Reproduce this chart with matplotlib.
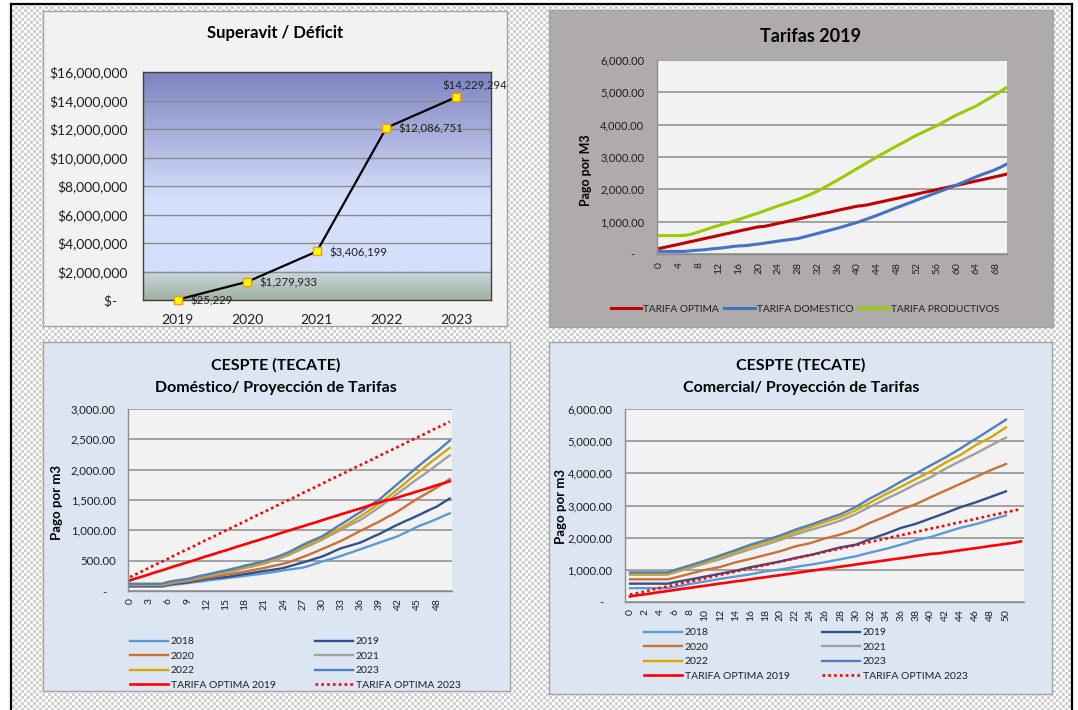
import numpy as np
import matplotlib
matplotlib.use('Agg')
import matplotlib.pyplot as plt
from matplotlib.colors import LinearSegmentedColormap
from matplotlib.lines import Line2D
from matplotlib.ticker import FuncFormatter

plt.rcParams['font.family'] = ['Lato', 'DejaVu Sans']

W, H = 1078, 710

# ---------------- data ----------------
sup_years = ['2019', '2020', '2021', '2022', '2023']
sup_values = [25229, 1279933, 3406199, 12086751, 14229294]

# Tarifas 2019 (0..70 m3)
t19_optima = [175, 205, 240, 270, 305, 340, 375, 405, 440, 475,
              510, 540, 575, 610, 640, 675, 710, 745, 775, 810,
              840, 850, 880, 915, 950, 980, 1015, 1050, 1080, 1115,
              1150, 1180, 1215, 1250, 1280, 1315, 1350, 1385, 1415, 1450,
              1480, 1495, 1520, 1555, 1590, 1620, 1655, 1690, 1720, 1755,
              1790, 1820, 1855, 1890, 1925, 1955, 1990, 2025, 2055, 2090,
              2125, 2155, 2190, 2225, 2260, 2290, 2325, 2360, 2395, 2430,
              2465]
t19_domestico = [80, 80, 80, 80, 80, 80, 95, 110, 120, 130,
                 150, 165, 180, 195, 215, 235, 250, 255, 270, 290,
                 310, 330, 355, 375, 400, 420, 440, 460, 480, 520,
                 560, 600, 640, 680, 720, 760, 800, 845, 890, 935,
                 980, 1035, 1090, 1145, 1200, 1260, 1320, 1380, 1440, 1495,
                 1555, 1610, 1670, 1730, 1785, 1845, 1900, 1955, 2015, 2070,
                 2130, 2195, 2260, 2325, 2390, 2450, 2505, 2560, 2620, 2690,
                 2770]
t19_productivos = [570, 570, 570, 570, 570, 575, 600, 640, 690, 740,
                   790, 840, 885, 930, 975, 1025, 1070, 1120, 1170, 1220,
                   1270, 1325, 1380, 1435, 1490, 1540, 1590, 1640, 1690, 1750,
                   1815, 1880, 1950, 2035, 2120, 2205, 2290, 2380, 2470, 2560,
                   2650, 2740, 2830, 2920, 3010, 3095, 3180, 3265, 3350, 3430,
                   3515, 3600, 3680, 3750, 3825, 3895, 3970, 4050, 4135, 4220,
                   4300, 4370, 4440, 4510, 4580, 4670, 4760, 4850, 4940, 5040,
                   5140]

# Domestico projection (0..50 m3)
dom_2018 = [70, 70, 70, 70, 70, 70, 90, 105, 115, 130,
            145, 155, 170, 185, 195, 210, 225, 235, 250, 265,
            275, 290, 305, 320, 340, 355, 370, 385, 415, 450,
            485, 515, 545, 578, 615, 650, 688, 725, 760, 798,
            835, 870, 908, 960, 1010, 1063, 1105, 1145, 1189, 1235,
            1280]
dom_2019 = [85, 85, 85, 85, 85, 85, 105, 120, 130, 140,
            160, 180, 200, 210, 220, 230, 245, 265, 280, 295,
            315, 330, 345, 360, 380, 410, 440, 470, 500, 535,
            567, 610, 660, 705, 735, 765, 798, 845, 895, 941,
            995, 1050, 1101, 1150, 1195, 1244, 1295, 1345, 1393, 1460,
            1525]
dom_2020 = [95, 95, 95, 95, 95, 95, 115, 135, 150, 160,
            180, 200, 220, 235, 255, 270, 285, 300, 320, 340,
            360, 380, 405, 425, 450, 480, 520, 560, 600, 645,
            690, 735, 780, 826, 880, 935, 991, 1040, 1095, 1145,
            1205, 1260, 1321, 1390, 1460, 1525, 1585, 1645, 1707, 1775,
            1845]
dom_2021 = [105, 105, 105, 105, 105, 105, 130, 150, 165, 180,
            200, 220, 240, 260, 280, 300, 325, 350, 380, 400,
            425, 450, 485, 520, 560, 600, 650, 700, 745, 795,
            843, 900, 955, 1010, 1065, 1120, 1170, 1240, 1310, 1380,
            1460, 1540, 1620, 1695, 1775, 1850, 1925, 2000, 2080, 2160,
            2236]
dom_2022 = [110, 110, 110, 110, 110, 110, 140, 160, 175, 190,
            210, 235, 255, 275, 300, 320, 345, 370, 400, 420,
            445, 470, 505, 540, 580, 625, 680, 730, 775, 820,
            870, 925, 985, 1040, 1100, 1165, 1230, 1300, 1370, 1440,
            1520, 1605, 1690, 1775, 1865, 1950, 2035, 2120, 2200, 2280,
            2360]
dom_2023 = [120, 120, 120, 120, 120, 120, 150, 170, 185, 200,
            225, 250, 270, 295, 320, 340, 365, 390, 420, 440,
            470, 495, 530, 565, 605, 650, 705, 760, 810, 855,
            900, 965, 1035, 1100, 1165, 1235, 1300, 1370, 1440, 1510,
            1600, 1690, 1780, 1870, 1960, 2050, 2135, 2220, 2300, 2390,
            2480]

# Comercial projection (0..50 m3)
com_2018 = [430, 430, 430, 430, 430, 430, 470, 515, 560, 600,
            640, 680, 720, 755, 790, 825, 860, 905, 950, 980,
            1010, 1050, 1090, 1125, 1160, 1200, 1240, 1285, 1330, 1375,
            1420, 1480, 1540, 1595, 1650, 1715, 1780, 1850, 1920, 1970,
            2020, 2095, 2170, 2240, 2310, 2365, 2420, 2490, 2560, 2625,
            2690]
com_2019 = [570, 570, 570, 570, 570, 570, 620, 660, 700, 745,
            790, 835, 880, 925, 970, 1025, 1080, 1125, 1170, 1215,
            1260, 1315, 1370, 1415, 1460, 1520, 1580, 1640, 1700, 1740,
            1780, 1870, 1960, 2040, 2120, 2210, 2300, 2365, 2430, 2515,
            2600, 2685, 2770, 2860, 2950, 3025, 3100, 3185, 3270, 3355,
            3440]
com_2020 = [705, 705, 705, 705, 705, 705, 760, 820, 880, 940,
            1000, 1045, 1090, 1160, 1230, 1285, 1340, 1400, 1460, 1520,
            1580, 1655, 1730, 1780, 1830, 1905, 1980, 2040, 2100, 2175,
            2250, 2360, 2470, 2565, 2660, 2765, 2870, 2955, 3040, 3150,
            3260, 3365, 3470, 3575, 3680, 3785, 3890, 3995, 4100, 4195,
            4290]
com_2021 = [850, 850, 850, 850, 850, 850, 920, 990, 1060, 1130,
            1200, 1265, 1330, 1410, 1490, 1565, 1640, 1710, 1780, 1855,
            1930, 2015, 2100, 2170, 2240, 2310, 2380, 2455, 2530, 2630,
            2730, 2850, 2970, 3085, 3200, 3310, 3420, 3540, 3660, 3770,
            3880, 4015, 4150, 4270, 4390, 4505, 4620, 4745, 4870, 4990,
            5110]
com_2022 = [870, 870, 870, 870, 870, 870, 960, 1030, 1100, 1175,
            1250, 1325, 1400, 1480, 1560, 1640, 1720, 1790, 1860, 1930,
            2000, 2090, 2180, 2255, 2330, 2410, 2490, 2565, 2640, 2745,
            2850, 2975, 3100, 3225, 3350, 3465, 3580, 3700, 3820, 3940,
            4060, 4200, 4340, 4460, 4580, 4730, 4880, 5000, 5120, 5275,
            5430]
com_2023 = [920, 920, 920, 920, 920, 920, 1000, 1070, 1140, 1215,
            1290, 1370, 1450, 1530, 1610, 1695, 1780, 1850, 1920, 1995,
            2070, 2160, 2250, 2325, 2400, 2485, 2570, 2650, 2730, 2840,
            2950, 3090, 3230, 3350, 3470, 3605, 3740, 3865, 3990, 4120,
            4250, 4375, 4500, 4640, 4780, 4930, 5075, 5220, 5370, 5520,
            5670]

# optimal tariffs (0..52 m3)
opt_2019 = [175, 210, 240, 275, 310, 340, 375, 410, 440, 475,
            505, 540, 575, 605, 640, 670, 705, 740, 770, 805,
            835, 870, 900, 935, 970, 1000, 1035, 1065, 1100, 1130,
            1165, 1200, 1230, 1265, 1295, 1330, 1360, 1395, 1430, 1460,
            1495, 1510, 1545, 1580, 1610, 1645, 1675, 1710, 1745, 1775,
            1810, 1840, 1885]
opt_2023 = [230, 280, 330, 385, 435, 485, 535, 590, 640, 690,
            740, 795, 845, 895, 945, 1000, 1050, 1100, 1150, 1205,
            1255, 1305, 1355, 1410, 1460, 1510, 1560, 1615, 1665, 1715,
            1765, 1820, 1870, 1920, 1970, 2025, 2075, 2125, 2175, 2230,
            2280, 2330, 2380, 2435, 2485, 2535, 2585, 2640, 2690, 2740,
            2790, 2840, 2890]

year_names = ['2018', '2019', '2020', '2021', '2022', '2023']
year_colors = ['#5b9bd5', '#2f528f', '#cc7033', '#a0a0a0', '#d9a600', '#4e80bd']
TXT = '#1f1f1f'


def rect(x0, y0, x1, y1):
    return [x0 / W, 1 - y1 / H, (x1 - x0) / W, (y1 - y0) / H]


def fx(x):
    return x / W


def fy(y):
    return 1 - y / H


def money_fmt(v, pos):
    return '$-   ' if v == 0 else f'${v:,.0f}'


def num_fmt(v, pos):
    return '-   ' if v == 0 else f'{v:,.2f}'


fig = plt.figure(figsize=(W / 100, H / 100), dpi=100)
fig.patch.set_facecolor('white')

# checkered background + black frame
yy, xx = np.mgrid[0:H, 0:W]
cells = ((yy // 3 + xx // 3) % 2)[..., None]
bg = np.where(cells == 1, 0.82, 1.0) * np.ones(3)
bg[:4, :] = 1.0
bg[:, :11] = 1.0
bg[:, 1072:] = 1.0
fig.figimage(bg, 0, 0, origin='upper', zorder=-5)
for xs_, ys_ in [([10.5, 1072], [3.5, 3.5]), ([10.5, 10.5], [3.5, 710]), ([1072, 1072], [3.5, 710])]:
    fig.add_artist(Line2D([fx(v) for v in xs_], [fy(v) for v in ys_],
                          transform=fig.transFigure, color='black', lw=1.6))


def chart_area(x0, y0, x1, y1, color):
    a = fig.add_axes(rect(x0, y0, x1, y1))
    a.set_facecolor(color)
    a.set_xticks([])
    a.set_yticks([])
    for s in a.spines.values():
        s.set_color('#a3a3a3')
        s.set_linewidth(1.0)
    return a


def style_line_axes(ax, ymax, step):
    ax.set_facecolor('#f2f2f2')
    ax.set_ylim(0, ymax)
    ax.set_yticks(np.arange(0, ymax + 1, step))
    ax.yaxis.set_major_formatter(FuncFormatter(num_fmt))
    ax.grid(axis='y', color='#8c8c8c', lw=1.1)
    ax.set_axisbelow(True)
    for side in ['top', 'right']:
        ax.spines[side].set_visible(False)
    for side in ['left', 'bottom']:
        ax.spines[side].set_color('#8c8c8c')
        ax.spines[side].set_linewidth(1.0)
    ax.tick_params(axis='both', length=0, labelcolor=TXT)
    ax.tick_params(axis='y', labelsize=8.2, pad=9)
    ax.tick_params(axis='x', labelsize=7.5, labelrotation=90, pad=5)


# ---------------- panel 1: Superavit / Deficit ----------------
chart_area(43, 11, 507, 326, '#f2f2f2')
ax1 = fig.add_axes(rect(143, 72, 490.7, 300))
stops = [(0.0, '#a2b3a0'), (0.124, '#c9d6e3'), (0.126, '#d5dffb'),
         (0.45, '#d5dffb'), (1.0, '#7e83c0')]
cmap = LinearSegmentedColormap.from_list('sup', stops)
grad = cmap(np.linspace(0, 1, 400))[:, None, :]
ax1.imshow(grad, extent=(-0.5, 4.5, 0, 16e6), aspect='auto', origin='lower', zorder=0)
xpos = np.arange(len(sup_years))
ax1.plot(xpos, sup_values, color='black', lw=1.6, marker='s', ms=5.5,
         mfc='#ffff00', mec='#f59a00', mew=1, clip_on=False, zorder=3)
for i, v in enumerate(sup_values):
    lab = f'${v:,}'
    if i == len(sup_values) - 1:
        ax1.annotate(lab, (i, v), xytext=(-10, 4), textcoords='offset points',
                     ha='left', va='bottom', fontsize=8.2, color=TXT, annotation_clip=False)
    else:
        ax1.annotate(lab, (i, v), xytext=(9, -1), textcoords='offset points',
                     ha='left', va='center', fontsize=8.2, color=TXT, annotation_clip=False)
ax1.set_xlim(-0.5, 4.5)
ax1.set_ylim(0, 16e6)
ax1.set_xticks(xpos)
ax1.set_xticklabels(sup_years)
ax1.set_yticks(np.arange(0, 16e6 + 1, 2e6))
ax1.yaxis.set_major_formatter(FuncFormatter(money_fmt))
ax1.grid(axis='y', color='#8c8c8c', lw=1.0)
for s in ax1.spines.values():
    s.set_color('#404040')
    s.set_linewidth(1.0)
ax1.tick_params(length=0, labelcolor=TXT)
ax1.tick_params(axis='y', labelsize=10, pad=11)
ax1.tick_params(axis='x', labelsize=10, pad=10)
fig.text(fx(275), fy(33), 'Superavit / Déficit', ha='center', va='center',
         fontsize=12, fontweight='bold', color='black')

# ---------------- panel 2: Tarifas 2019 ----------------
chart_area(549, 10, 1053, 327, '#afabab')
ax2 = fig.add_axes(rect(656.7, 60, 1007, 254))
x2 = np.arange(len(t19_optima))
l_opt = ax2.plot(x2, t19_optima, color='#c00000', lw=2.2, label='TARIFA OPTIMA')[0]
l_dom = ax2.plot(x2, t19_domestico, color='#4472c4', lw=2.2, label='TARIFA DOMESTICO')[0]
l_pro = ax2.plot(x2, t19_productivos, color='#99cc00', lw=2.2, label='TARIFA PRODUCTIVOS')[0]
style_line_axes(ax2, 6000, 1000)
ax2.set_xlim(-0.6, 70.2)
ax2.set_xticks(np.arange(0, 69, 4))
ax2.tick_params(axis='y', labelsize=8)
ax2.tick_params(axis='x', pad=6)
fig.text(fx(810), fy(36), 'Tarifas 2019', ha='center', va='center',
         fontsize=13, fontweight='bold', color='black')
fig.text(fx(586), fy(170), 'Pago por M3', ha='center', va='center', rotation=90,
         fontsize=9, fontweight='bold', color='black')
fig.legend(handles=[l_opt, l_dom, l_pro], loc='center', bbox_to_anchor=(fx(805), fy(309)),
           ncol=3, frameon=False, fontsize=7.3, handlelength=3.0, handletextpad=0.2,
           columnspacing=0.5, labelcolor=TXT)


# ---------------- panels 3 & 4: projections ----------------
def projection_panel(box, plot, xlim, xticks, ymax, step, series, opt_n,
                     title, title_x, ylab_xy, leg_x, leg_y):
    chart_area(*box, '#dce6f2')
    ax = fig.add_axes(rect(*plot))
    handles = []
    for name, col, vals in zip(year_names, year_colors, series):
        handles.append(ax.plot(np.arange(len(vals)), vals, color=col, lw=1.7, label=name)[0])
    handles.append(ax.plot(np.arange(opt_n), opt_2019[:opt_n], color='#ff0000', lw=1.9,
                           label='TARIFA OPTIMA 2019')[0])
    handles.append(ax.plot(np.arange(opt_n), opt_2023[:opt_n], color='#ff0000', lw=1.9,
                           ls=(0, (1, 1.2)), label='TARIFA OPTIMA 2023')[0])
    style_line_axes(ax, ymax, step)
    ax.set_xlim(*xlim)
    ax.set_xticks(xticks)
    fig.text(fx(title_x), fy(365), 'CESPTE (TECATE)', ha='center', va='center',
             fontsize=11.5, fontweight='bold', color='black')
    fig.text(fx(title_x), fy(388), title, ha='center', va='center',
             fontsize=11.5, fontweight='bold', color='black')
    fig.text(fx(ylab_xy[0]), fy(ylab_xy[1]), 'Pago por m3', ha='center', va='center',
             rotation=90, fontsize=9.5, fontweight='bold', color='black')
    cols = [[handles[0], handles[2], handles[4], handles[6]],
            [handles[1], handles[3], handles[5], handles[7]]]
    for hx, hs in zip(leg_x, cols):
        fig.legend(handles=hs, loc='upper left', bbox_to_anchor=(fx(hx), fy(leg_y)),
                   frameon=False, fontsize=7.5, handlelength=3.6, handletextpad=0.3,
                   labelspacing=0.5, borderpad=0, borderaxespad=0, labelcolor=TXT)
    return ax


projection_panel((43, 342, 510, 691), (128.3, 409, 452, 591), (-0.27, 50.35),
                 np.arange(0, 49, 3), 3000, 500,
                 [dom_2018, dom_2019, dom_2020, dom_2021, dom_2022, dom_2023], 51,
                 'Doméstico/ Proyección de Tarifas', 276, (57, 502), (130, 315), 637)
projection_panel((549, 342, 1052, 694), (625, 409, 1024, 602), (-0.66, 52.4),
                 np.arange(0, 51, 2), 6000, 1000,
                 [com_2018, com_2019, com_2020, com_2021, com_2022, com_2023], 53,
                 'Comercial/ Proyección de Tarifas', 801, (561, 507), (644, 822), 628)

fig.savefig('out.png', dpi=100, facecolor=fig.get_facecolor())
